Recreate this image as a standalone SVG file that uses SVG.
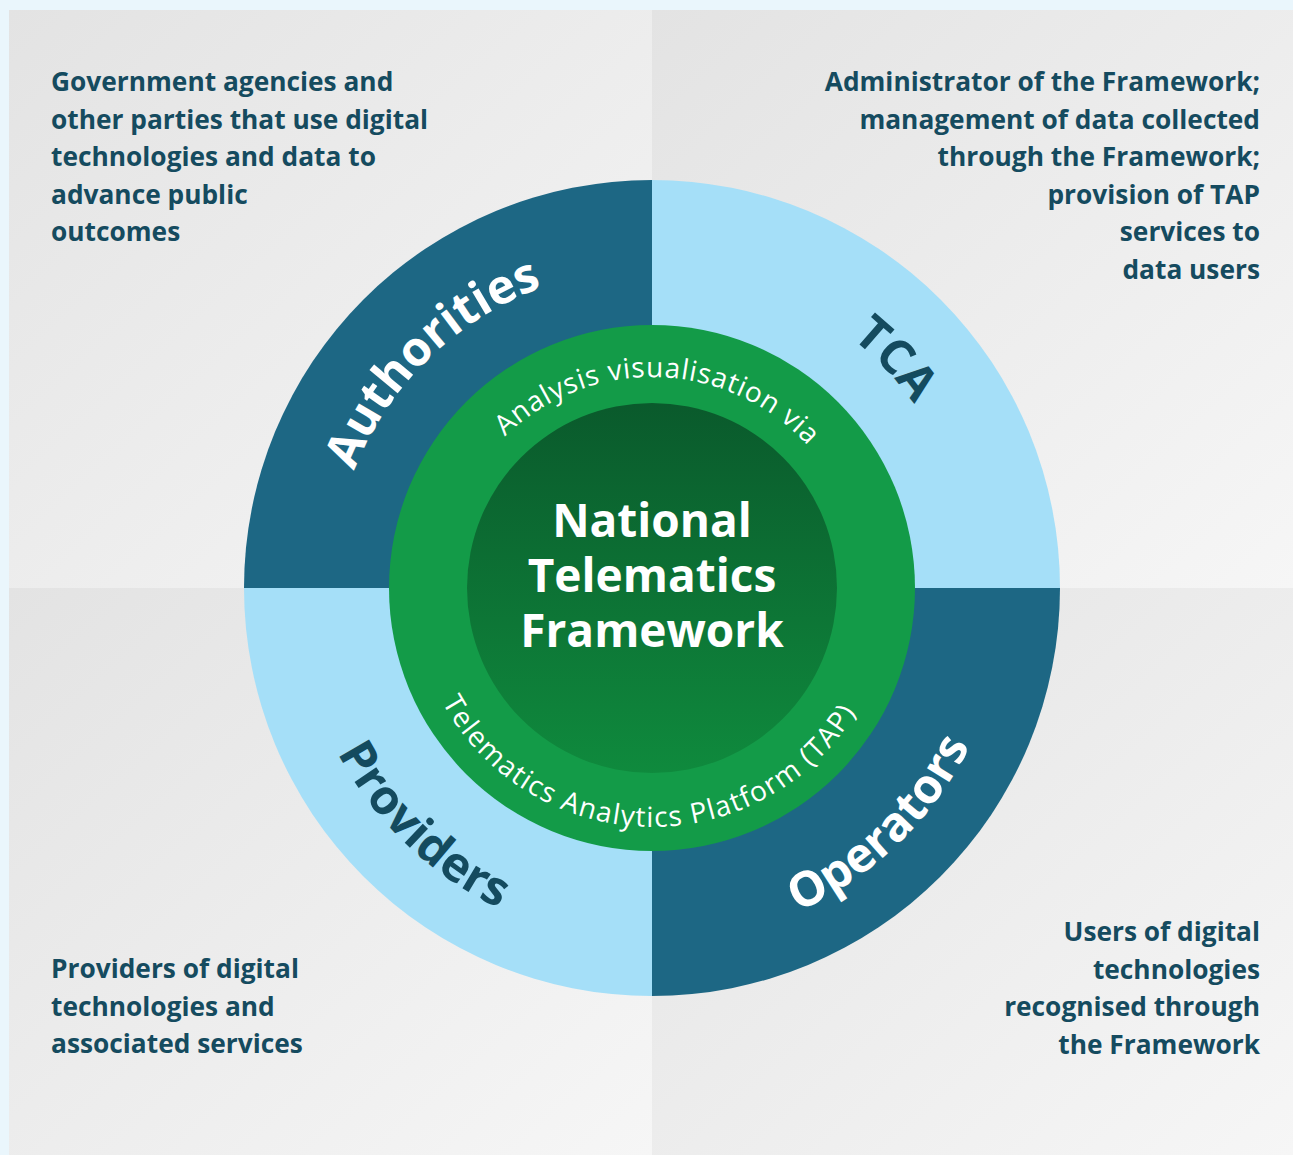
<svg xmlns="http://www.w3.org/2000/svg" xmlns:xlink="http://www.w3.org/1999/xlink" width="1293" height="1155" viewBox="0 0 1293 1155">
<style>
.desc{font-family:"Open Sans","Liberation Sans",sans-serif;font-weight:700;font-size:26.3px;fill:#154b5f}
.lbl{font-family:"Open Sans","Liberation Sans",sans-serif;font-weight:700;font-size:48px}
.ring{font-family:"Open Sans","Liberation Sans",sans-serif;font-weight:500;font-size:28px;fill:#ffffff}
.core{font-family:"Open Sans","Liberation Sans",sans-serif;font-weight:700;font-size:46px;fill:#ffffff}
.w{fill:#ffffff}.n{fill:#144b5f}
</style>
<defs>
<linearGradient id="bg" x1="0" y1="0" x2="1" y2="1">
<stop offset="0" stop-color="#e3e3e3"/><stop offset="1" stop-color="#f6f6f6"/>
</linearGradient>
<linearGradient id="core" x1="0" y1="0" x2="0" y2="1">
<stop offset="0" stop-color="#0a5a2c"/><stop offset="1" stop-color="#0f8a3d"/>
</linearGradient>
<path id="pTopOuter" d="M332,588 A320,320 0 0 1 972,588"/>
<path id="pBotOuter" d="M297,588 A355,355 0 0 0 1007,588"/>
<path id="pTopRing" d="M441,588 A211,211 0 0 1 863,588"/>
<path id="pBotRing" d="M413,588 A239,239 0 0 0 891,588"/>
</defs>
<rect x="0" y="0" width="1293" height="1155" fill="#eaf6fc"/>
<rect x="9" y="10" width="643" height="578" fill="url(#bg)"/>
<rect x="652" y="10" width="641" height="578" fill="url(#bg)"/>
<rect x="9" y="588" width="643" height="567" fill="url(#bg)"/>
<rect x="652" y="588" width="641" height="567" fill="url(#bg)"/>

<g id="authorities">
<path d="M652,588 L244,588 A408,408 0 0 1 652,180 Z" fill="#1d6784"/>
<text class="lbl w" font-size="46"><textPath xlink:href="#pTopOuter" startOffset="25.4%" text-anchor="middle">Authorities</textPath></text>
<text class="desc" x="51"><tspan x="51" y="91">Government agencies and</tspan><tspan x="51" y="128.5">other parties that use digital</tspan><tspan x="51" y="166">technologies and data to</tspan><tspan x="51" y="203.5">advance public</tspan><tspan x="51" y="241">outcomes</tspan></text>
</g>
<g id="tca">
<path d="M652,588 L652,180 A408,408 0 0 1 1060,588 Z" fill="#a5dff8"/>
<text class="lbl n"><textPath xlink:href="#pTopOuter" startOffset="76%" text-anchor="middle">TCA</textPath></text>
<text class="desc" text-anchor="end"><tspan x="1260" y="91">Administrator of the Framework;</tspan><tspan x="1260" y="128.5">management of data collected</tspan><tspan x="1260" y="166">through the Framework;</tspan><tspan x="1260" y="203.5">provision of TAP</tspan><tspan x="1260" y="241">services to</tspan><tspan x="1260" y="278.5">data users</tspan></text>
</g>
<g id="providers">
<path d="M652,588 L652,996 A408,408 0 0 1 244,588 Z" fill="#a5dff8"/>
<text class="lbl n"><textPath xlink:href="#pBotOuter" startOffset="25.6%" text-anchor="middle">Providers</textPath></text>
<text class="desc"><tspan x="51" y="978">Providers of digital</tspan><tspan x="51" y="1015.5">technologies and</tspan><tspan x="51" y="1053">associated services</tspan></text>
</g>
<g id="operators">
<path d="M652,588 L1060,588 A408,408 0 0 1 652,996 Z" fill="#1d6784"/>
<text class="lbl w"><textPath xlink:href="#pBotOuter" startOffset="74.4%" text-anchor="middle">Operators</textPath></text>
<text class="desc" text-anchor="end"><tspan x="1260" y="941">Users of digital</tspan><tspan x="1260" y="978.5">technologies</tspan><tspan x="1260" y="1016">recognised through</tspan><tspan x="1260" y="1053.5">the Framework</tspan></text>
</g>
<g id="tap">
<circle cx="652" cy="588" r="263" fill="#139b48"/>
<text class="ring" letter-spacing="0.8"><textPath xlink:href="#pTopRing" startOffset="51%" text-anchor="middle">Analysis visualisation via</textPath></text>
<text class="ring" letter-spacing="1.3"><textPath xlink:href="#pBotRing" startOffset="49.3%" text-anchor="middle">Telematics Analytics Platform (TAP)</textPath></text>
</g>
<g id="ntf">
<circle cx="652" cy="588" r="185" fill="url(#core)"/>
<text class="core" text-anchor="middle"><tspan x="652" y="537">National</tspan><tspan x="652" y="592">Telematics</tspan><tspan x="652" y="647">Framework</tspan></text>
</g>
<g id="connectors"/>
</svg>
